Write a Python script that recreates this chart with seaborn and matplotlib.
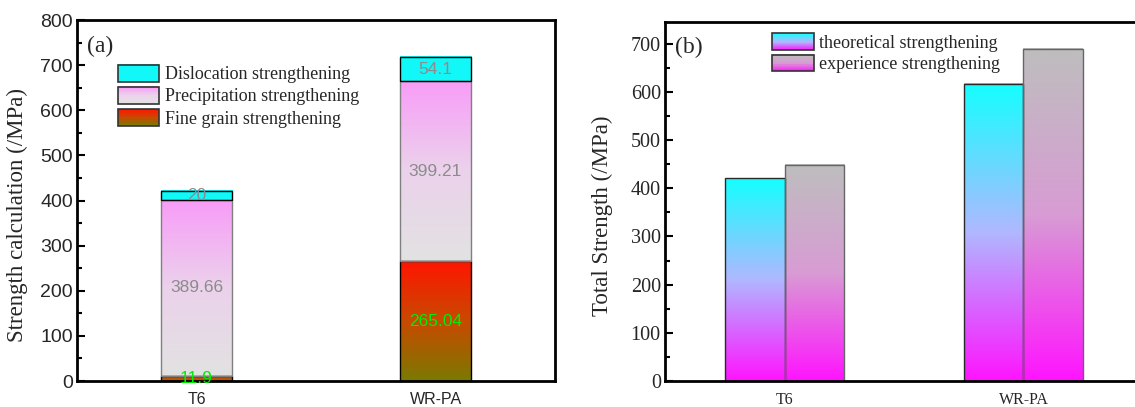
import numpy as np
import pandas as pd
import matplotlib
matplotlib.use("Agg")
import matplotlib.pyplot as plt
import seaborn as sns
from matplotlib.patches import Rectangle
from matplotlib.legend_handler import HandlerBase
from matplotlib.colors import to_rgb

# ---------------- data ----------------
categories = ["T6", "WR-PA"]
fine_grain = [11.9, 265.04]
precipitation = [389.66, 399.21]
dislocation = [20, 54.1]

theoretical = [421, 617]
experience = [449, 690]

sns.set_theme(style="white")
SERIF = ["Liberation Serif", "DejaVu Serif"]
SANS = ["Liberation Sans", "DejaVu Sans"]
plt.rcParams["font.family"] = SANS

fig = plt.figure(figsize=(11.35, 4.07), dpi=100)
axA = fig.add_axes([77 / 1135, 26 / 407, 478 / 1135, 361 / 407])
axB = fig.add_axes([665 / 1135, 26 / 407, 478 / 1135, 359 / 407])

# gradient specs: colour stops from top to bottom
G_DISL = ("#12F8F8", "#12F8F8")
G_PREC = ("#F89CF8", "#EBD2EB", "#E2E2E2")
G_FINE = ("#FF1500", "#C84A00", "#7A7A00")
G_THEO = ("#14FFFF", "#B0B8FF", "#FF14FF")
G_EXPE = ("#BEBEBE", "#D89CD4", "#FF14FF")


def colour_at(spec, f):
    """f = 1 top, 0 bottom"""
    stops = [np.array(to_rgb(c)) for c in spec]
    n = len(stops) - 1
    pos = (1 - f) * n
    i = min(int(pos), n - 1)
    t = pos - i
    return stops[i] * (1 - t) + stops[i + 1] * t


def grad_fill(ax, patch, spec, zorder=1):
    x0, y0 = patch.get_x(), patch.get_y()
    w, h = patch.get_width(), patch.get_height()
    fs = np.linspace(1, 0, 256)
    img = np.array([colour_at(spec, f) for f in fs])[:, None, :]
    ax.imshow(img, extent=[x0, x0 + w, y0, y0 + h], aspect="auto",
              origin="upper", zorder=zorder, interpolation="bilinear")
    patch.set_facecolor("none")
    patch.set_zorder(zorder + 0.5)


class HandlerGradient(HandlerBase):
    def __init__(self, spec, edge="#333333"):
        super().__init__()
        self.spec = spec
        self.edge = edge

    def create_artists(self, legend, orig_handle, xdescent, ydescent,
                       width, height, fontsize, trans):
        arts = []
        n = 24
        x0, y0 = -xdescent, -ydescent
        for i in range(n):
            f = (i + 0.5) / n  # 0 bottom -> 1 top
            r = Rectangle((x0, y0 + height * i / n), width, height / n + 0.3,
                          facecolor=colour_at(self.spec, f), edgecolor="none",
                          transform=trans)
            arts.append(r)
        arts.append(Rectangle((x0, y0), width, height, facecolor="none",
                              edgecolor=self.edge, lw=1.2, transform=trans))
        return arts


# ---------------- panel (a) ----------------
dfA = pd.DataFrame({"cat": categories, "fine": fine_grain,
                    "prec": precipitation, "disl": dislocation})
dfA["b_prec"] = dfA["fine"]
dfA["b_disl"] = dfA["fine"] + dfA["prec"]

layers = [("fine", None, G_FINE, "black"),
          ("prec", "b_prec", G_PREC, "#7F7F7F"),
          ("disl", "b_disl", G_DISL, "black")]
for col, bcol, spec, ec in layers:
    n_before = len(axA.patches)
    kw = {}
    if bcol is not None:
        kw["bottom"] = dfA[bcol].values
    sns.barplot(data=dfA, x="cat", y=col, ax=axA, width=0.3, color="white",
                edgecolor=ec, linewidth=1.0, order=categories, **kw)
    for p in axA.patches[n_before:]:
        grad_fill(axA, p, spec)

# value labels
for i, cat in enumerate(categories):
    f, pr, d = fine_grain[i], precipitation[i], dislocation[i]
    axA.text(i, f / 2, f"{f:g}", color="#00EE00", ha="center", va="center",
             fontsize=12.5, zorder=5, family=SANS)
    axA.text(i, f + pr / 2, f"{pr:g}", color="#8C8C8C", ha="center",
             va="center", fontsize=12.5, zorder=5, family=SANS)
    axA.text(i, f + pr + d / 2, f"{d:g}", color="#8C8C8C", ha="center",
             va="center", fontsize=12.5, zorder=5, family=SANS)

axA.set_xlim(-0.5, 1.5)
axA.set_ylim(0, 800)
axA.set_yticks(np.arange(0, 801, 100))
axA.set_yticks(np.arange(50, 800, 100), minor=True)
axA.set_xlabel("")
axA.set_ylabel("Strength calculation (/MPa)", family=SERIF, fontsize=16.5)
axA.yaxis.set_label_coords(-0.102, 0.46)
for lab in axA.get_yticklabels():
    lab.set_family(SANS); lab.set_fontsize(14)
for lab in axA.get_xticklabels():
    lab.set_family(SANS); lab.set_fontsize(11.5)
axA.text(0.02, 0.927, "(a)", transform=axA.transAxes, family=SERIF,
         fontsize=17, va="center", ha="left")

hA = [Rectangle((0, 0), 1, 1) for _ in range(3)]
axA.legend(hA, ["Dislocation strengthening", "Precipitation strengthening",
                "Fine grain strengthening"],
           handler_map={hA[0]: HandlerGradient(G_DISL),
                        hA[1]: HandlerGradient(G_PREC),
                        hA[2]: HandlerGradient(G_FINE)},
           loc="upper left", bbox_to_anchor=(0.085, 0.876),
           frameon=False, borderaxespad=0, borderpad=0,
           handlelength=2.3, handleheight=1.05, labelspacing=0.2,
           handletextpad=0.3, prop={"family": SERIF, "size": 13})

# ---------------- panel (b) ----------------
dfB = pd.DataFrame({"cat": categories * 2,
                    "val": theoretical + experience,
                    "kind": ["theoretical strengthening"] * 2 +
                            ["experience strengthening"] * 2})
sns.barplot(data=dfB, x="cat", y="val", hue="kind", ax=axB, width=0.5,
            order=categories, palette=["white", "white"], edgecolor="black",
            linewidth=1.0, legend=False)
bars = [p for p in axB.patches if p.get_height() > 0]
for p in bars:
    xc = p.get_x() + p.get_width() / 2
    idx = int(round(xc))
    spec = G_THEO if xc < idx else G_EXPE
    grad_fill(axB, p, spec)
    p.set_edgecolor("#2A2A2A" if spec is G_THEO else "#666666")

axB.set_xlim(-0.5, 1.5)
axB.set_ylim(0, 745)
axB.set_yticks(np.arange(0, 701, 100))
axB.set_yticks(np.arange(50, 745, 100), minor=True)
axB.set_xlabel("")
axB.set_ylabel("Total Strength (/MPa)", family=SERIF, fontsize=16.5)
axB.yaxis.set_label_coords(-0.109, 0.46)
for lab in axB.get_yticklabels():
    lab.set_family(SERIF); lab.set_fontsize(14.5)
for lab in axB.get_xticklabels():
    lab.set_family(SERIF); lab.set_fontsize(11.5)
axB.text(0.02, 0.93, "(b)", transform=axB.transAxes, family=SERIF,
         fontsize=17, va="center", ha="left")

hB = [Rectangle((0, 0), 1, 1) for _ in range(2)]
axB.legend(hB, ["theoretical strengthening", "experience strengthening"],
           handler_map={hB[0]: HandlerGradient(G_THEO),
                        hB[1]: HandlerGradient(G_EXPE)},
           loc="upper left", bbox_to_anchor=(0.224, 0.968),
           frameon=False, borderaxespad=0, borderpad=0,
           handlelength=2.3, handleheight=1.05, labelspacing=0.15,
           handletextpad=0.3, prop={"family": SERIF, "size": 13})

for ax in (axA, axB):
    for s in ax.spines.values():
        s.set_visible(True)
        s.set_color("black")
        s.set_linewidth(2)
    ax.tick_params(axis="y", which="major", direction="in", length=6,
                   width=1.5, left=True, color="black", pad=3)
    ax.tick_params(axis="y", which="minor", direction="in", length=3.5,
                   width=1.5, left=True, color="black")
    ax.tick_params(axis="x", which="both", bottom=False, pad=2)
    ax.grid(False)

fig.savefig("out.png", dpi=100)
